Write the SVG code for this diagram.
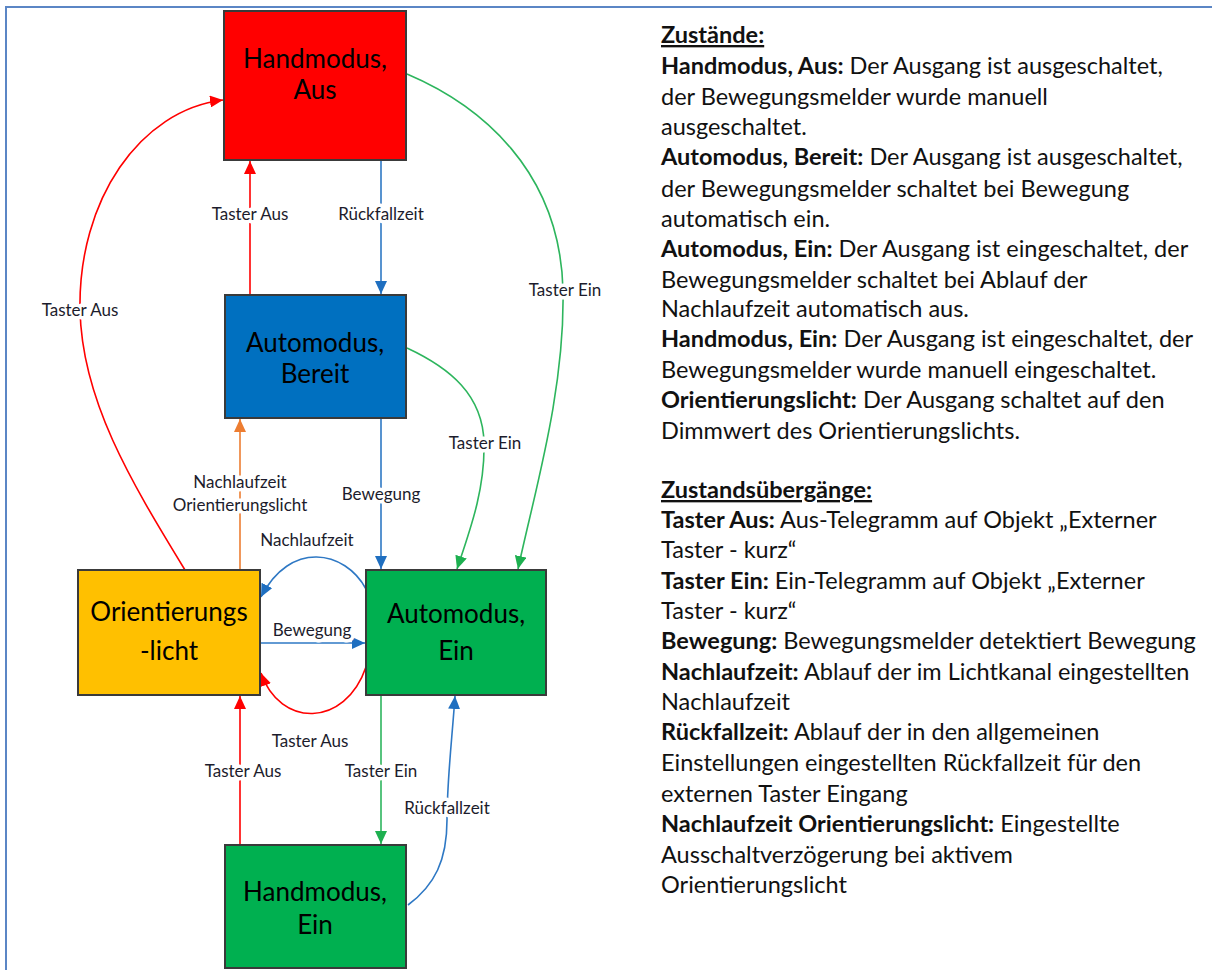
<svg xmlns="http://www.w3.org/2000/svg" width="1212" height="970" viewBox="0 0 1212 970">
<style>
.node{stroke:#3a3a3a;stroke-width:2}
.nt{font-family:Lato,"Liberation Sans",sans-serif;font-size:26px;fill:#000;text-anchor:middle}
.c{fill:none;stroke-width:1.6}
.red{stroke:#FF0000}
.blue{stroke:#2E78C4}
.green{stroke:#2DB55D}
.orange{stroke:#ED7D31}
.lbl{font-family:Lato,"Liberation Sans",sans-serif;font-size:17px;fill:#1c1c2c;text-anchor:middle;paint-order:stroke;stroke:#fff;stroke-width:7px;stroke-linejoin:round}
.tx{font-family:Lato,"Liberation Sans",sans-serif;font-size:23.5px;fill:#111}
.b{font-weight:bold}
.u{font-weight:bold;text-decoration:underline}
</style>
<defs>
<marker id="aR" markerUnits="userSpaceOnUse" markerWidth="14" markerHeight="12" refX="13" refY="6" orient="auto"><path d="M0,0 L13,6 L0,12 z" fill="#FF0000"/></marker>
<marker id="aB" markerUnits="userSpaceOnUse" markerWidth="14" markerHeight="12" refX="13" refY="6" orient="auto"><path d="M0,0 L13,6 L0,12 z" fill="#1F6FC0"/></marker>
<marker id="aG" markerUnits="userSpaceOnUse" markerWidth="14" markerHeight="12" refX="13" refY="6" orient="auto"><path d="M0,0 L13,6 L0,12 z" fill="#1DB050"/></marker>
<marker id="aO" markerUnits="userSpaceOnUse" markerWidth="14" markerHeight="12" refX="13" refY="6" orient="auto"><path d="M0,0 L13,6 L0,12 z" fill="#ED7D31"/></marker>
</defs>
<rect width="1212" height="970" fill="#fff"/>
<path d="M6,970 V7 H1212" fill="none" stroke="#5B86C5" stroke-width="2"/>

<g id="connectors">
<path class="c red" d="M250,295 V161" marker-end="url(#aR)"/>
<path class="c blue" d="M381,161 V294" marker-end="url(#aB)"/>
<path class="c green" d="M407,74 C480,105 560,170 563,290 C565,390 535,490 518,569" marker-end="url(#aG)"/>
<path class="c red" d="M185,570 C130,480 82,400 80,310 C78,200 140,110 223,100" marker-end="url(#aR)"/>
<path class="c blue" d="M381,419 V569" marker-end="url(#aB)"/>
<path class="c green" d="M407,348 C450,368 483,395 484,443 C485,490 470,530 457,569" marker-end="url(#aG)"/>
<path class="c orange" d="M240,570 V419" marker-end="url(#aO)"/>
<path class="c blue" d="M366,589 C345,550 290,540 261,597" marker-end="url(#aB)"/>
<path class="c blue" d="M261,643 H365" marker-end="url(#aB)"/>
<path class="c red" d="M366,667 C345,728 280,728 261,673" marker-end="url(#aR)"/>
<path class="c red" d="M240,845 V696" marker-end="url(#aR)"/>
<path class="c green" d="M381,696 V844" marker-end="url(#aG)"/>
<path class="c blue" d="M408,905 C435,885 447,860 447,820 C447,780 452,740 455,696" marker-end="url(#aB)"/>
<text class="lbl" x="250" y="220">Taster Aus</text>
<text class="lbl" x="381" y="220">Rückfallzeit</text>
<text class="lbl" x="565" y="296">Taster Ein</text>
<text class="lbl" x="80" y="316">Taster Aus</text>
<text class="lbl" x="485" y="449">Taster Ein</text>
<text class="lbl" x="240" y="488">Nachlaufzeit</text>
<text class="lbl" x="240" y="511">Orientierungslicht</text>
<text class="lbl" x="381" y="500">Bewegung</text>
<text class="lbl" x="307" y="546">Nachlaufzeit</text>
<text class="lbl" x="312" y="636">Bewegung</text>
<text class="lbl" x="310" y="747">Taster Aus</text>
<text class="lbl" x="243" y="777">Taster Aus</text>
<text class="lbl" x="381" y="777">Taster Ein</text>
<text class="lbl" x="447" y="814">Rückfallzeit</text>
</g>

<g id="handmodus-aus">
<rect class="node" x="224" y="11" width="182" height="149" fill="#FF0000"/>
<text class="nt" x="315" y="68">Handmodus,</text>
<text class="nt" x="315" y="99">Aus</text>
</g>
<g id="automodus-bereit">
<rect class="node" x="225" y="295" width="181" height="123" fill="#0070C0"/>
<text class="nt" x="315" y="352">Automodus,</text>
<text class="nt" x="315" y="383">Bereit</text>
</g>
<g id="orientierungslicht">
<rect class="node" x="78" y="570" width="182" height="125" fill="#FFC000"/>
<text class="nt" x="169" y="621">Orientierungs</text>
<text class="nt" x="169" y="660">-licht</text>
</g>
<g id="automodus-ein">
<rect class="node" x="366" y="570" width="180" height="125" fill="#00B050"/>
<text class="nt" x="456" y="623">Automodus,</text>
<text class="nt" x="456" y="660">Ein</text>
</g>
<g id="handmodus-ein">
<rect class="node" x="225" y="845" width="181" height="123" fill="#00B050"/>
<text class="nt" x="315" y="901">Handmodus,</text>
<text class="nt" x="315" y="934">Ein</text>
</g>

<g id="legend" class="tx">
<text x="661" y="43"><tspan class="u">Zustände:</tspan></text>
<text x="661" y="74"><tspan class="b">Handmodus, Aus:</tspan> Der Ausgang ist ausgeschaltet,</text>
<text x="661" y="105">der Bewegungsmelder wurde manuell</text>
<text x="661" y="135">ausgeschaltet.</text>
<text x="661" y="165"><tspan class="b">Automodus, Bereit:</tspan> Der Ausgang ist ausgeschaltet,</text>
<text x="661" y="197">der Bewegungsmelder schaltet bei Bewegung</text>
<text x="661" y="227">automatisch ein.</text>
<text x="661" y="257"><tspan class="b">Automodus, Ein:</tspan> Der Ausgang ist eingeschaltet, der</text>
<text x="661" y="288">Bewegungsmelder schaltet bei Ablauf der</text>
<text x="661" y="317">Nachlaufzeit automatisch aus.</text>
<text x="661" y="347"><tspan class="b">Handmodus, Ein:</tspan> Der Ausgang ist eingeschaltet, der</text>
<text x="661" y="378">Bewegungsmelder wurde manuell eingeschaltet.</text>
<text x="661" y="408"><tspan class="b">Orientierungslicht:</tspan> Der Ausgang schaltet auf den</text>
<text x="661" y="439">Dimmwert des Orientierungslichts.</text>
<text x="661" y="498"><tspan class="u">Zustandsübergänge:</tspan></text>
<text x="661" y="528"><tspan class="b">Taster Aus:</tspan> Aus-Telegramm auf Objekt „Externer</text>
<text x="661" y="558">Taster - kurz“</text>
<text x="661" y="589"><tspan class="b">Taster Ein:</tspan> Ein-Telegramm auf Objekt „Externer</text>
<text x="661" y="619">Taster - kurz“</text>
<text x="661" y="649"><tspan class="b">Bewegung:</tspan> Bewegungsmelder detektiert Bewegung</text>
<text x="661" y="680"><tspan class="b">Nachlaufzeit:</tspan> Ablauf der im Lichtkanal eingestellten</text>
<text x="661" y="710">Nachlaufzeit</text>
<text x="661" y="740"><tspan class="b">Rückfallzeit:</tspan> Ablauf der in den allgemeinen</text>
<text x="661" y="771">Einstellungen eingestellten Rückfallzeit für den</text>
<text x="661" y="802">externen Taster Eingang</text>
<text x="661" y="832"><tspan class="b">Nachlaufzeit Orientierungslicht:</tspan> Eingestellte</text>
<text x="661" y="863">Ausschaltverzögerung bei aktivem</text>
<text x="661" y="893">Orientierungslicht</text>
</g>
</svg>
